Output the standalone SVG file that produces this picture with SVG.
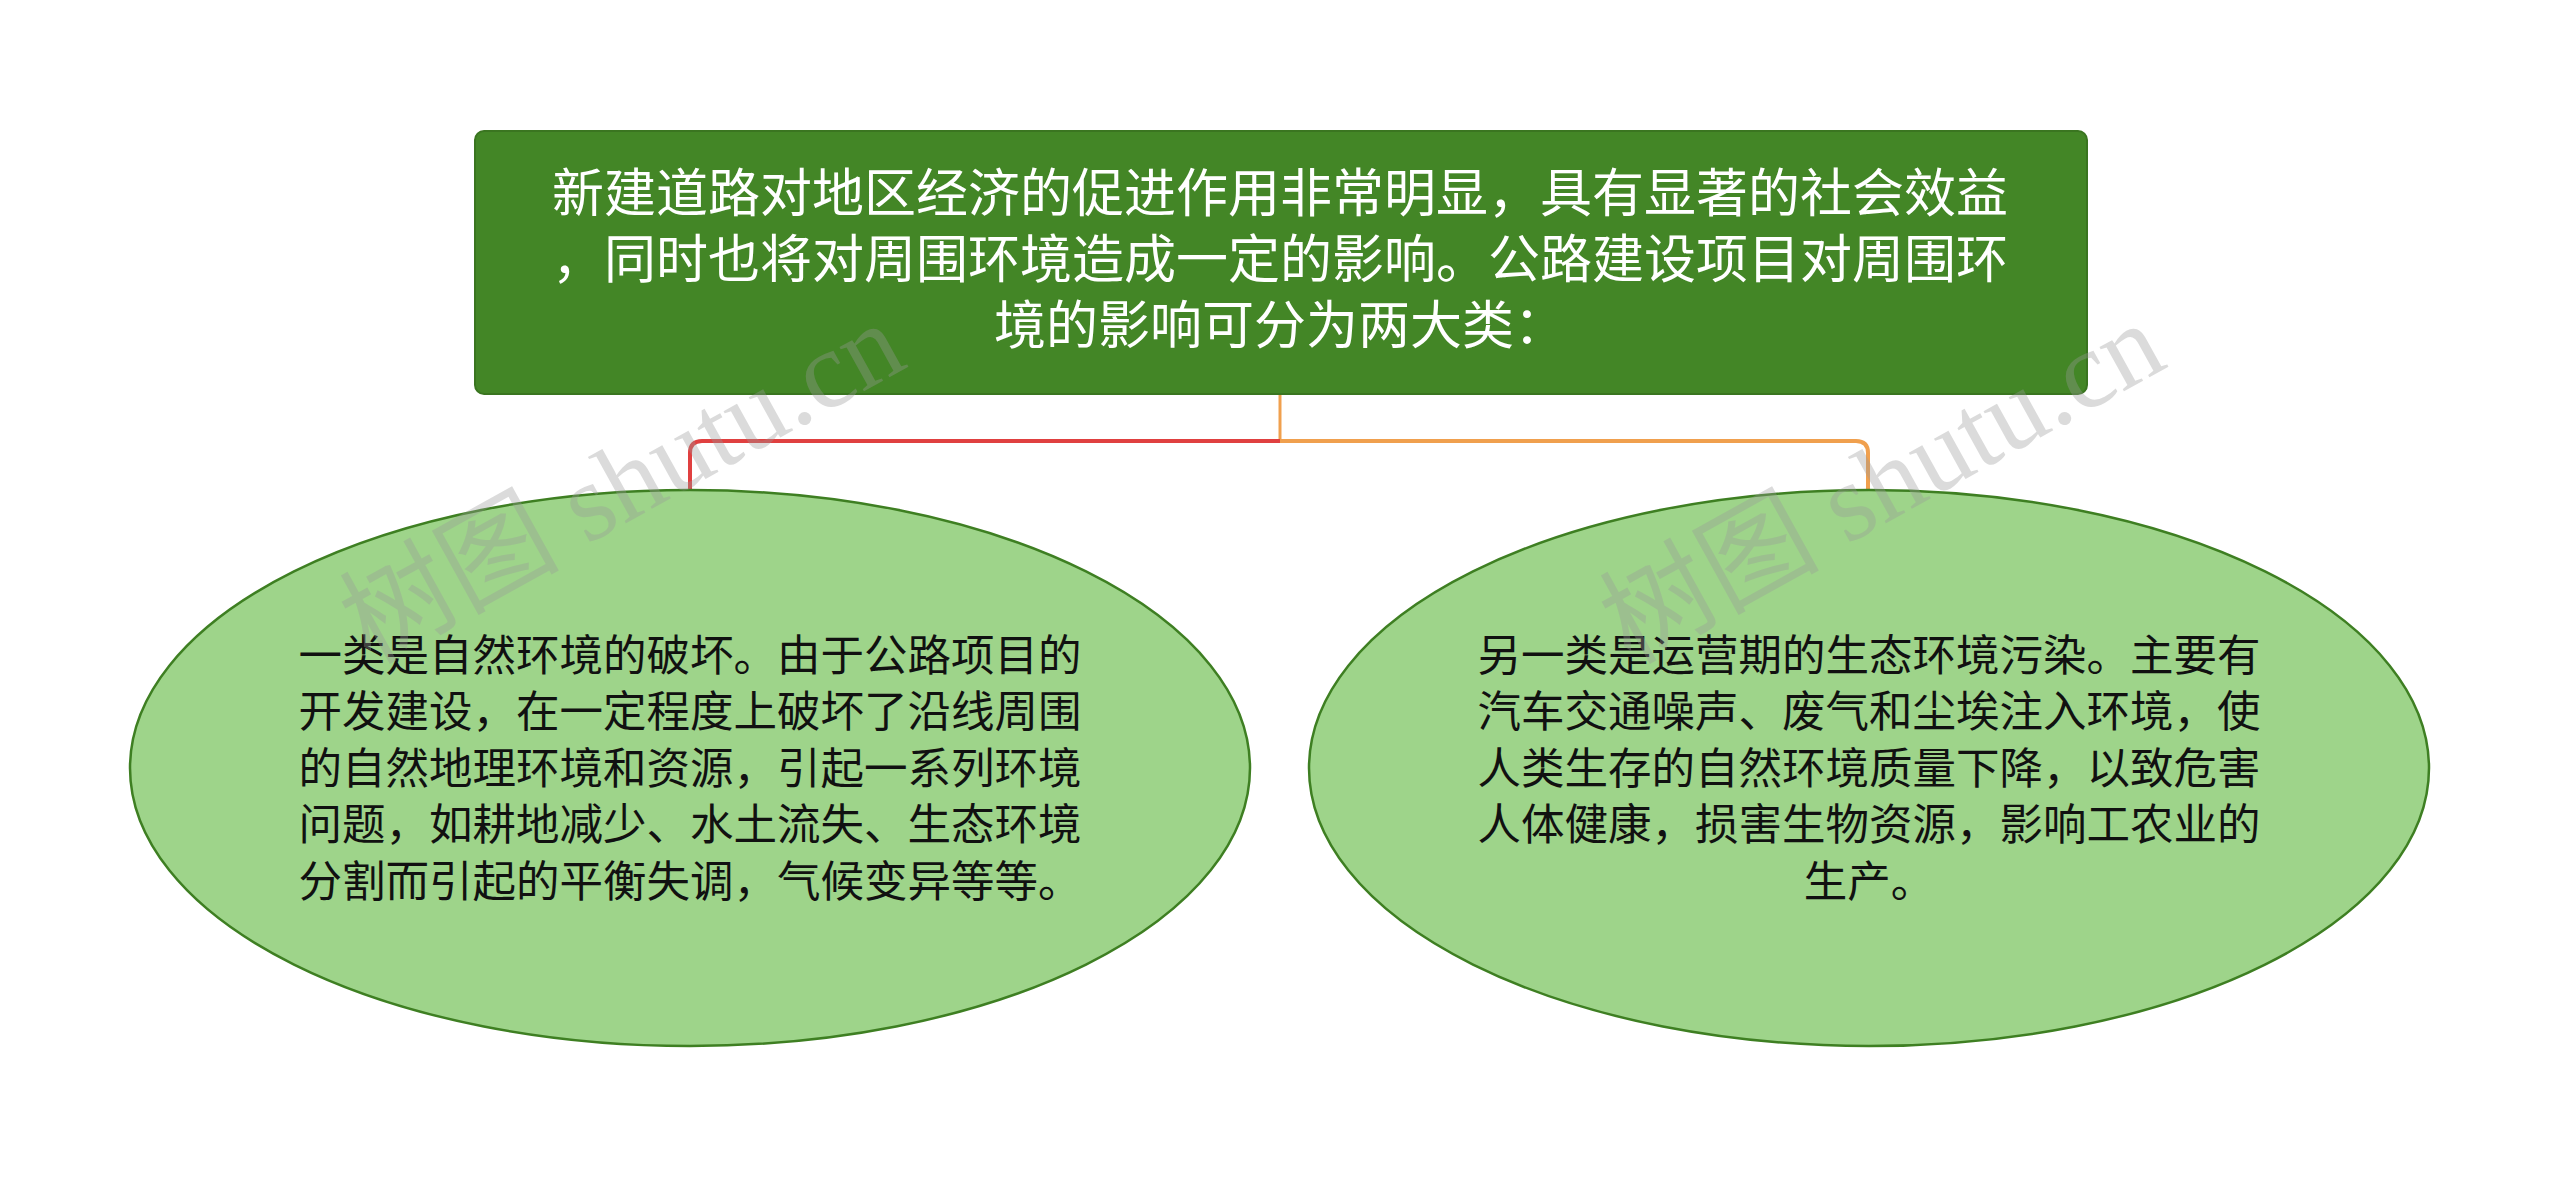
<svg xmlns="http://www.w3.org/2000/svg" width="2560" height="1179" viewBox="0 0 2560 1179">
<style>
.root-t{font-family:"Noto Sans CJK SC","Noto Sans",sans-serif;font-size:52px;fill:#ffffff;text-anchor:middle}
.leaf-t{font-family:"Noto Sans CJK SC","Noto Sans",sans-serif;font-size:43.5px;fill:#111111;text-anchor:middle}
.leaf{fill:#9ED48A;stroke:#3E7F22;stroke-width:2.5}
.wm{font-family:"Liberation Serif","Noto Sans CJK SC",serif;font-size:110px;fill:#9a9a9a;opacity:0.35}
.c{fill:none;stroke-linejoin:round}
</style>
<rect width="2560" height="1179" fill="#ffffff"/>
<g id="connectors">
<path class="c" d="M1280 394 V441" stroke="#F0A04E" stroke-width="3"/>
<path class="c" d="M1280 441 H702 Q690 441 690 453 V490" stroke="#E04040" stroke-width="4"/>
<path class="c" d="M1280 441 H1856 Q1868 441 1868 453 V490" stroke="#F0A04E" stroke-width="4"/>
</g>
<g id="root">
<rect x="475" y="131" width="1612" height="263" rx="9" fill="#438626" stroke="#3A7520" stroke-width="2"/>
<text class="root-t" x="1280" y="212">新建道路对地区经济的促进作用非常明显，具有显著的社会效益</text>
<text class="root-t" x="1280" y="278">，同时也将对周围环境造成一定的影响。公路建设项目对周围环</text>
<text class="root-t" x="1280" y="344">境的影响可分为两大类：</text>
</g>
<g id="node-left">
<ellipse class="leaf" cx="690" cy="768" rx="560" ry="278"/>
<text class="leaf-t" x="690" y="671">一类是自然环境的破坏。由于公路项目的</text>
<text class="leaf-t" x="690" y="727">开发建设，在一定程度上破坏了沿线周围</text>
<text class="leaf-t" x="690" y="784">的自然地理环境和资源，引起一系列环境</text>
<text class="leaf-t" x="690" y="840">问题，如耕地减少、水土流失、生态环境</text>
<text class="leaf-t" x="690" y="897">分割而引起的平衡失调，气候变异等等。</text>
</g>
<g id="node-right">
<ellipse class="leaf" cx="1869" cy="768" rx="560" ry="278"/>
<text class="leaf-t" x="1869" y="671">另一类是运营期的生态环境污染。主要有</text>
<text class="leaf-t" x="1869" y="727">汽车交通噪声、废气和尘埃注入环境，使</text>
<text class="leaf-t" x="1869" y="784">人类生存的自然环境质量下降，以致危害</text>
<text class="leaf-t" x="1869" y="840">人体健康，损害生物资源，影响工农业的</text>
<text class="leaf-t" x="1869" y="897">生产。</text>
</g>
<g id="watermarks">
<text class="wm" transform="translate(370 665) rotate(-29)">树图 shutu.cn</text>
<text class="wm" transform="translate(1630 665) rotate(-29)">树图 shutu.cn</text>
</g>
</svg>
